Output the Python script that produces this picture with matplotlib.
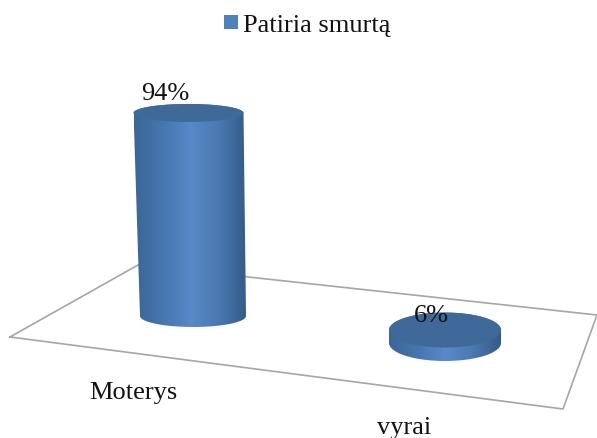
import numpy as np
import matplotlib
matplotlib.use('Agg')
import matplotlib.pyplot as plt
from matplotlib.colors import LinearSegmentedColormap
from matplotlib.path import Path
from matplotlib.patches import PathPatch, Rectangle

plt.rcParams['font.family'] = ['Liberation Serif', 'DejaVu Serif']

categories = ['Moterys', 'vyrai']
values = [94, 6]
value_labels = ['94%', '6%']
legend_label = 'Patiria smurtą'

W, H = 597, 439
px_per_pct = 2.16

fig = plt.figure(figsize=(W / 100, H / 100), dpi=100)
ax = fig.add_axes([0, 0, 1, 1])
ax.set_xlim(0, W)
ax.set_ylim(H, 0)
ax.axis('off')

# floor
floor = [(10, 338), (138, 266), (597, 316), (563, 410), (10, 338)]
ax.plot(*zip(*floor), color='#a6a6a6', lw=1.2, zorder=1)

side_cmap = LinearSegmentedColormap.from_list('side', ['#3a6698', '#4676ae', '#5889c8', '#4a79b2', '#335b88'])
top_color = '#3f6998'


def ellipse(cx, cy, rx, ry, t0=0, t1=2 * np.pi, n=80):
    t = np.linspace(t0, t1, n)
    return np.column_stack([cx + rx * np.cos(t), cy + ry * np.sin(t)])


def cylinder(value, base_c, base_rx, base_ry, top_c, top_rx, top_ry):
    y0 = base_c[1]
    y1 = y0 - px_per_pct * value
    # side: lower half of base ellipse, then up to the top ellipse
    low = ellipse(base_c[0], y0, base_rx, base_ry, 0, np.pi)
    up = ellipse(top_c, y1, top_rx, top_ry, np.pi, 2 * np.pi)
    verts = np.vstack([low, up, low[:1]])
    patch = PathPatch(Path(verts), fc='none', ec='none', zorder=2)
    ax.add_patch(patch)
    xl, xr = verts[:, 0].min(), verts[:, 0].max()
    im = ax.imshow(np.linspace(0, 1, 256)[None, :], cmap=side_cmap, aspect='auto',
                   extent=[xl, xr, verts[:, 1].max(), verts[:, 1].min()], zorder=2)
    im.set_clip_path(patch)
    ax.fill(*ellipse(top_c, y1, top_rx, top_ry).T, color=top_color, lw=0, zorder=3)
    ax.set_xlim(0, W)
    ax.set_ylim(H, 0)


# bar geometry: base centre, radii, top centre x, top radii
geom = [((193, 317), 53, 11, 188.5, 55, 9),
        ((445, 344), 56, 18, 445, 56, 17.5)]
label_pos = [(165.5, 94), (431, 316)]
cat_pos = [(133, 393), (404, 428)]

for v, g, vl, lp, c, cp in zip(values, geom, value_labels, label_pos, categories, cat_pos):
    cylinder(v, *g)
    ax.text(lp[0], lp[1], vl, fontsize=19, color='#111111', ha='center', va='center', zorder=5)
    ax.text(cp[0], cp[1], c, fontsize=19, color='#111111', ha='center', va='center', zorder=5)

# legend
ax.add_patch(Rectangle((224, 16), 14, 14, fc='#4f81bd', ec='none', zorder=5))
ax.text(243, 26, legend_label, fontsize=19, color='#111111', ha='left', va='center', zorder=5)

fig.savefig('out.png', dpi=100)
